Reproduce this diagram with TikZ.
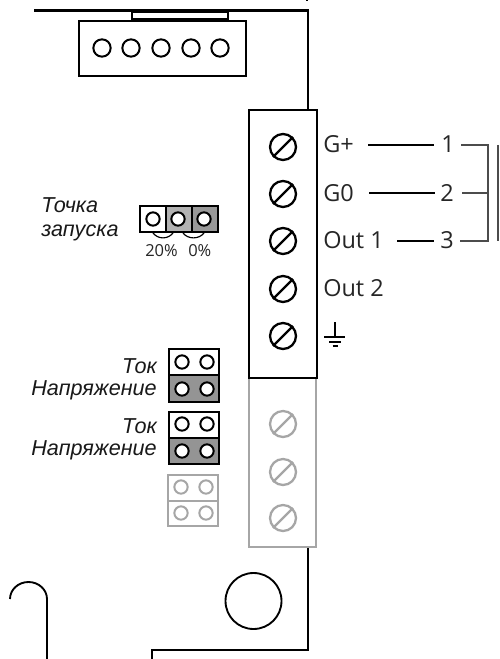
\documentclass[tikz,border=0pt]{standalone}
\usepackage{fontspec}
\setmainfont{Open Sans}
\newfontfamily\labelfont{Liberation Sans}
\begin{document}
\begin{tikzpicture}[x=0.75pt,y=-0.75pt,
  outl/.style={line width=1.9pt,black},
  thinl/.style={line width=0.85pt,black},
  greyl/.style={line width=0.95pt,black!70},
  pin/.style={circle,draw=black,line width=1.5pt,minimum size=10pt,inner sep=0pt,fill=white},
  gpin/.style={circle,draw=black!35,line width=1.5pt,minimum size=10pt,inner sep=0pt},
  sig/.style={font=\fontsize{17.6pt}{19pt}\selectfont,inner sep=0pt,text=black!85},
  small/.style={font=\fontsize{12.4pt}{14pt}\selectfont,inner sep=0pt,text=black!85},
  ru/.style={font=\labelfont\itshape\fontsize{16.2pt}{18pt}\selectfont,inner sep=0pt,text=black!90},
  lbl/.style={sig,anchor=base west},
  scr/.style={circle,draw=#1,line width=1.7pt,minimum size=19.5pt,inner sep=0pt},
  scr/.default=black]
\useasboundingbox (0,0) rectangle (499,659);
\fill[white] (0,0) rectangle (499,659);
% board outline
\coordinate (topL) at (34,10.5);
\coordinate (topR) at (308,10.5);
\coordinate (termT) at (308,110);
\coordinate (termB) at (308,547);
\coordinate (botR) at (308,650);
\coordinate (botL) at (152,650);
\coordinate (botE) at (152,659);
\draw[outl,line cap=butt,line join=miter] (topL) -- (topR) -- (termT);
\draw[outl] (termB) -- (botR) -- (botL) -- (botE);
\draw[line width=1pt] (307,0) -- (307,1.2);
% top connector
\draw[line width=1.5pt] (131.5,21) -- (131.5,12) -- (227.5,12) -- (227.5,21);
\fill (131,18.5) rectangle (228,22);
\draw[line width=1.5pt] (79,21) rectangle (246,76);
\foreach \n/\x in {1/102,2/131,3/161,4/191,5/220}
  \node[pin,minimum size=13pt] (c\n) at (\x,48) {};
% terminal block
\draw[line width=1.7pt,black!35] (249,378) -- (249,547) -- (316,547) -- (316,378);
\draw[line width=1.7pt] (249,110) rectangle (317,378);
\foreach \n/\y in {1/147,2/194,3/241,4/289,5/336}{
  \node[scr] (s\n) at (283,\y) {};
  \draw[line width=1.7pt] (s\n.225) -- (s\n.45);
}
\foreach \n/\y in {6/424,7/472,8/518}{
  \node[scr=black!35] (s\n) at (283,\y) {};
  \draw[line width=1.7pt,black!35] (s\n.225) -- (s\n.45);
}
% terminal labels
\node[lbl] (lg) at (323,153) {G+};
\node[lbl] (lz) at (323,201) {G0};
\node[lbl] (lo) at (323,248) {Out 1};
\node[lbl] (lt) at (323,296) {Out 2};
\node[lbl] (n1) at (441,153) {1};
\node[lbl] (n2) at (440,201) {2};
\node[lbl] (n3) at (440,248) {3};
\coordinate (a1) at (368,145);
\coordinate (a2) at (369,193);
\coordinate (a3) at (397,241);
\draw[thinl] (a1) -- (434,145);
\draw[thinl] (a2) -- (435,193);
\draw[thinl] (a3) -- (434,241);
\draw[greyl] (461,145) -- (488,145) -- (488,241) -- (460,241);
\draw[greyl] (462,193) -- (488,193);
\draw[line width=1.2pt,black!70] (498,145) -- (498,241);
\draw[greyl] (498,193) -- (499,193);
% ground
\coordinate (g0) at (335,322);
\coordinate (g1) at (335,337);
\draw[thinl] (g0) -- (g1);
\draw[thinl] (324,337) -- (345,337);
\draw[thinl] (329,342) -- (341,342);
\draw[thinl] (332.5,346) -- (337.5,346);
% setpoint jumper
\filldraw[fill=white,draw=black,line width=1.7pt] (140,206) rectangle (166,232);
\filldraw[fill=black!30,draw=black,line width=1.7pt] (166,206) rectangle (192,232);
\filldraw[fill=black!40,draw=black,line width=1.7pt] (192,206) rectangle (218,232);
\foreach \n/\x in {1/153,2/178,3/204}
  \node[pin] (j\n) at (\x,219) {};
\draw[thinl] (153,233) .. controls (158,239.5) and (168,239.5) .. (173,233);
\draw[thinl] (183,233) .. controls (188,239.5) and (199,239.5) .. (204,233);
\node[small,anchor=base west] (p20) at (145,256) {20\%};
\node[small,anchor=base west] (p0) at (188,256) {0\%};
\node[ru,anchor=base west] (tp1) at (41,212) {Точка};
\node[ru,anchor=base west] (tp2) at (41,236) {запуска};
% current/voltage jumpers
\filldraw[fill=white,draw=black,line width=1.7pt] (169,349) rectangle (219,375);
\filldraw[fill=black!42,draw=black,line width=1.7pt] (169,375) rectangle (219,402);
\filldraw[fill=white,draw=black,line width=1.7pt] (169,412) rectangle (219,438);
\filldraw[fill=black!42,draw=black,line width=1.7pt] (169,438) rectangle (219,464);
\draw[line width=1.5pt,black!35] (168,475) rectangle (218,526) (168,501) -- (218,501);
\foreach \n/\x/\y in {a/182/362,b/207/362,c/182/389,d/207/389,e/182/424,f/207/424,g/182/451,h/207/451}
  \node[pin] (p\n) at (\x,\y) {};
\foreach \n/\x/\y in {i/181/487,j/206/487,k/181/513,l/206/513}
  \node[gpin] (p\n) at (\x,\y) {};
\node[ru,anchor=base east] (t1) at (157,373) {Ток};
\node[ru,anchor=base east] (v1) at (157,395) {Напряжение};
\node[ru,anchor=base east] (t2) at (157,433) {Ток};
\node[ru,anchor=base east] (v2) at (157,455) {Напряжение};
% bottom
\node[circle,draw=black,line width=1.4pt,minimum size=42pt,inner sep=0pt] (hole) at (253.5,601) {};
\draw[line width=1.4pt] (10,599) arc[start angle=180,end angle=360,x radius=18.5,y radius=17] -- (47,659);
\end{tikzpicture}
\end{document}
